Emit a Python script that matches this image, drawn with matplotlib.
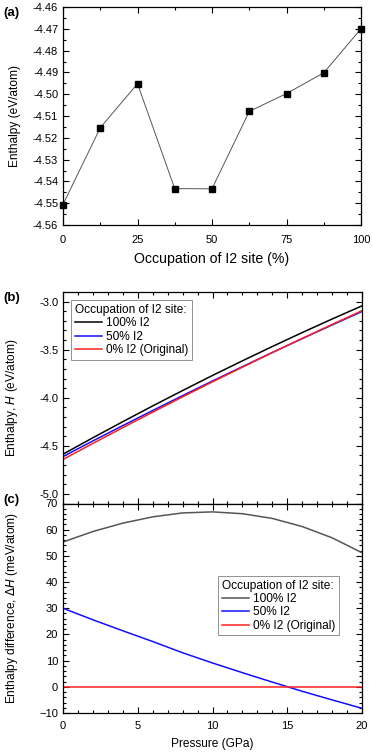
import numpy as np
import matplotlib
matplotlib.use('Agg')
import matplotlib.pyplot as plt
from matplotlib.ticker import AutoMinorLocator, FormatStrFormatter

plt.rcParams['font.family'] = ['Liberation Sans', 'DejaVu Sans']

# (a) enthalpy vs occupation of I2 site
occupation = [0, 12.5, 25, 37.5, 50, 62.5, 75, 87.5, 100]
enthalpy_occ = [-4.5506, -4.5154, -4.4952, -4.5433, -4.5434, -4.5079, -4.4997, -4.4902, -4.4700]

# (b) enthalpy vs pressure
pressure = [0, 2, 4, 6, 8, 10, 12, 14, 16, 18, 20]
H_100 = [-4.587, -4.416, -4.249, -4.085, -3.925, -3.768, -3.616, -3.467, -3.322, -3.181, -3.044]
H_50 = [-4.612, -4.449, -4.290, -4.133, -3.978, -3.826, -3.677, -3.529, -3.385, -3.243, -3.103]
H_0 = [-4.642, -4.475, -4.311, -4.150, -3.991, -3.835, -3.682, -3.531, -3.383, -3.238, -3.095]

# (c) enthalpy difference (meV/atom)
dH_100 = [55.3, 59.3, 62.5, 64.9, 66.4, 66.8, 66.1, 64.3, 61.2, 56.9, 51.2]
dH_50 = [30.0, 25.6, 21.4, 17.3, 13.0, 9.1, 5.4, 1.8, -1.7, -5.0, -8.2]
dH_0 = [0, 0, 0, 0, 0, 0, 0, 0, 0, 0, 0]

labels = ['100% I2', '50% I2', '0% I2 (Original)']

fig = plt.figure(figsize=(3.73, 7.54), dpi=100)
W, Hh = 373.0, 754.0
FS = 8.6


def box(l, r, t, b):
    return [l / W, 1 - b / Hh, (r - l) / W, (b - t) / Hh]


def style(ax):
    ax.tick_params(which='both', direction='in', top=True, right=True,
                   labelsize=8, width=0.8)
    ax.tick_params(which='major', length=4)
    ax.tick_params(which='minor', length=2)
    for s in ax.spines.values():
        s.set_linewidth(0.9)


def legend(ax, **kw):
    leg = ax.legend(title='Occupation of I2 site:', fontsize=FS, title_fontsize=FS,
                    frameon=True, fancybox=False, edgecolor='#777777', borderpad=0.3,
                    labelspacing=0.12, handlelength=2.3, handletextpad=0.3,
                    alignment='left', **kw)
    leg.get_frame().set_linewidth(0.7)
    return leg


axa = fig.add_axes(box(63, 361, 7, 225))
axa.plot(occupation, enthalpy_occ, '-', color='#555555', lw=0.7,
         marker='s', ms=5, mfc='black', mec='black', clip_on=False)
axa.set_xlim(0, 100)
axa.set_ylim(-4.56, -4.46)
axa.set_xticks([0, 25, 50, 75, 100])
axa.set_yticks(np.arange(-4.56, -4.455, 0.01))
axa.yaxis.set_major_formatter(FormatStrFormatter('%.2f'))
axa.xaxis.set_minor_locator(AutoMinorLocator(2))
axa.yaxis.set_minor_locator(AutoMinorLocator(2))
style(axa)
axa.tick_params(axis='x', pad=7)
axa.set_xlabel('Occupation of I2 site (%)', fontsize=10.2, labelpad=5)
axa.set_ylabel('Enthalpy (eV/atom)', fontsize=FS)
axa.yaxis.set_label_coords(-0.141, 0.5)
fig.text(3 / W, 1 - 13 / Hh, '(a)', fontsize=9.5, fontweight='bold', va='center')

axb = fig.add_axes(box(63, 362, 292, 503.5))
axb.plot(pressure, H_100, color='black', lw=1.1, label=labels[0])
axb.plot(pressure, H_50, color='#1010ff', lw=1.1, label=labels[1])
axb.plot(pressure, H_0, color='#ff2020', lw=1.1, label=labels[2])
axb.set_xlim(0, 20)
axb.set_ylim(-5.1, -2.9)
axb.set_xticks([0, 5, 10, 15, 20])
axb.set_yticks([-5.0, -4.5, -4.0, -3.5, -3.0])
axb.yaxis.set_major_formatter(FormatStrFormatter('%.1f'))
axb.xaxis.set_minor_locator(AutoMinorLocator(5))
axb.yaxis.set_minor_locator(AutoMinorLocator(5))
style(axb)
axb.tick_params(labelbottom=False)
axb.set_ylabel('Enthalpy, $H$ (eV/atom)', fontsize=FS)
axb.yaxis.set_label_coords(-0.144, 0.5)
legend(axb, loc='upper left', borderaxespad=0.7)
fig.text(3 / W, 1 - 298 / Hh, '(b)', fontsize=9.5, fontweight='bold', va='center')

axc = fig.add_axes(box(63, 362, 503.5, 713))
axc.plot(pressure, dH_100, color='#555555', lw=1.1, label=labels[0])
axc.plot(pressure, dH_50, color='#1010ff', lw=1.1, label=labels[1])
axc.plot(pressure, dH_0, color='#ff2020', lw=1.1, label=labels[2])
axc.set_xlim(0, 20)
axc.set_ylim(-10, 70)
axc.set_xticks([0, 5, 10, 15, 20])
axc.set_yticks(np.arange(-10, 71, 10))
axc.xaxis.set_minor_locator(AutoMinorLocator(5))
axc.yaxis.set_minor_locator(AutoMinorLocator(5))
style(axc)
axc.tick_params(axis='x', pad=5.5)
axc.set_xlabel('Pressure (GPa)', fontsize=FS, labelpad=5.5)
axc.set_ylabel('Enthalpy difference, $\\Delta H$ (meV/atom)', fontsize=FS)
axc.yaxis.set_label_coords(-0.144, 0.5)
legend(axc, loc='upper left', bbox_to_anchor=(155 / 299, 1 - 72.5 / 209.5),
       borderaxespad=0.0)
fig.text(3 / W, 1 - 500 / Hh, '(c)', fontsize=9.5, fontweight='bold', va='center')

fig.savefig('out.png', dpi=100)
